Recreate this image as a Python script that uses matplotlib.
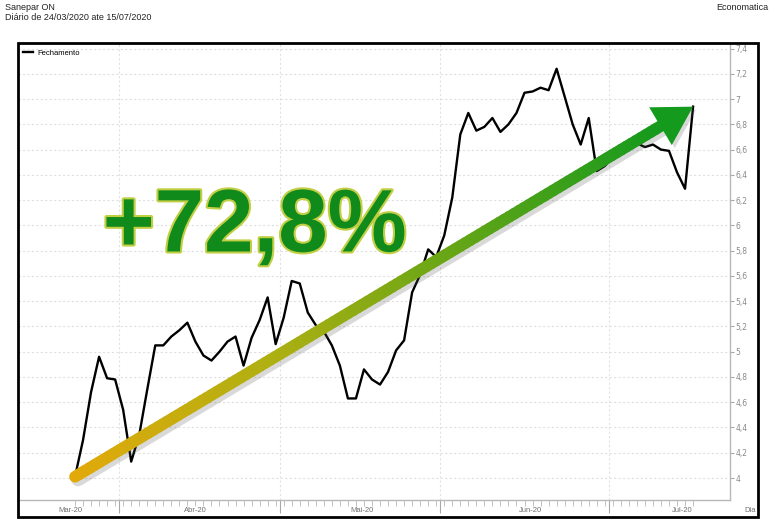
import numpy as np
import pandas as pd
import matplotlib
matplotlib.use('Agg')
import matplotlib.pyplot as plt
import matplotlib.patheffects as pe
from matplotlib.collections import LineCollection
from matplotlib.colors import LinearSegmentedColormap
from matplotlib.patches import Polygon, Rectangle

# trading days 24/03/2020 - 15/07/2020 (B3 holidays removed)
holidays = ['2020-04-10', '2020-04-21', '2020-05-01', '2020-06-11']
dates = pd.bdate_range('2020-03-24', '2020-07-15')
dates = dates[~dates.isin(pd.to_datetime(holidays))]

fechamento = [
    4.01, 4.30, 4.68, 4.96, 4.79, 4.78, 4.54, 4.13, 4.34, 4.70,
    5.05, 5.05, 5.12, 5.17, 5.23, 5.08, 4.97, 4.93, 5.00, 5.08,
    5.12, 4.89, 5.11, 5.25, 5.43, 5.06, 5.27, 5.56, 5.54, 5.31,
    5.21, 5.16, 5.05, 4.89, 4.63, 4.63, 4.86, 4.78, 4.74, 4.84,
    5.01, 5.09, 5.47, 5.61, 5.81, 5.75, 5.92, 6.22, 6.72, 6.89,
    6.75, 6.78, 6.85, 6.74, 6.80, 6.89, 7.05, 7.06, 7.09, 7.07,
    7.24, 7.02, 6.80, 6.64, 6.85, 6.43, 6.47, 6.54, 6.59, 6.63,
    6.65, 6.62, 6.64, 6.60, 6.59, 6.42, 6.29, 6.94,
]
month_names = ['Mar-20', 'Abr-20', 'Mai-20', 'Jun-20', 'Jul-20']
y_ticks = [4.0, 4.2, 4.4, 4.6, 4.8, 5.0, 5.2, 5.4, 5.6, 5.8, 6.0, 6.2, 6.4, 6.6, 6.8, 7.0, 7.2, 7.4]

x = np.arange(len(fechamento))
y = np.array(fechamento)
W, H = 774, 525

fig = plt.figure(figsize=(W / 100, H / 100), dpi=100)
fig.patch.set_facecolor('white')

# plot area in pixels: left 18, right 730, top 44, bottom 500
ax = fig.add_axes([18 / W, 25 / H, 712 / W, 456 / H])
ax.set_xlim(-7.1, 81.6)
ax.set_ylim(3.826, 7.436)

for s in ['top', 'left']:
    ax.spines[s].set_visible(False)
for s in ['right', 'bottom']:
    ax.spines[s].set_color('#b8b8b8')
    ax.spines[s].set_linewidth(1)

ax.yaxis.tick_right()
ax.set_yticks(y_ticks)
ax.set_yticklabels([('%g' % v).replace('.', ',') for v in y_ticks])
ax.tick_params(axis='y', direction='out', length=3, color='#a8a8a8',
               labelsize=5.5, labelcolor='#8a8a8a', pad=1)
ax.grid(axis='y', color='#e0e0e0', linestyle=(0, (2, 2)), linewidth=0.8)

# month boundaries and day ticks
month_idx = [0] + [int(np.argmax(dates.month == m)) for m in [4, 5, 6, 7]]
bounds = [i - 0.5 for i in month_idx[1:]]
ax.set_xticks(bounds)
ax.set_xticklabels([])
ax.set_xticks(x, minor=True)
ax.tick_params(axis='x', which='major', direction='out', length=9, color='#a8a8a8')
ax.tick_params(axis='x', which='minor', direction='out', length=4, color='#b8b8b8')
for b in bounds:
    ax.axvline(b, color='#e2e2e2', linestyle=(0, (2, 2)), linewidth=0.8, zorder=0)

label_pos = [-0.6, 15, 35.7, 56.7, 75.7]
for name, p in zip(month_names, label_pos):
    ax.text(p, -0.024, name, transform=ax.get_xaxis_transform(), ha='center',
            va='center', fontsize=5.5, color='#707070', family='Liberation Sans')
ax.text(1.028, -0.024, 'Dia', transform=ax.transAxes, ha='center', va='center',
        fontsize=5.5, color='#707070', family='Liberation Sans')

line, = ax.plot(x, y, color='black', linewidth=1.7, zorder=3, label='Fechamento')
leg = ax.legend(loc='upper left', frameon=False, handlelength=1.3,
                borderaxespad=0.3, handletextpad=0.6,
                prop={'family': 'Liberation Sans', 'size': 5.5})

# big gradient arrow from first to last close
fig.canvas.draw()
to_disp = ax.transData.transform
to_data = ax.transData.inverted().transform
p0 = to_disp((x[0], y[0]))
p1 = to_disp((x[-1], y[-1]))
d = (p1 - p0) / np.linalg.norm(p1 - p0)
nrm = np.array([-d[1], d[0]])
head_len, head_w = 38, 22
base = p1 - d * head_len

cmap = LinearSegmentedColormap.from_list('arr', ['#e2a90a', '#b0b012', '#62a516', '#149a1d'])
n = 120
t = np.linspace(0, 1, n + 1)
pts = np.array([p0 + (base - p0) * tt for tt in t])
shadow_off = np.array([3, -3])
sh = to_data(pts + shadow_off)
ax.plot(sh[:, 0], sh[:, 1], color='#555555', alpha=0.22, linewidth=9.5,
        solid_capstyle='round', zorder=4)
dpts = to_data(pts)
segs = np.stack([dpts[:-1], dpts[1:]], axis=1)
lc = LineCollection(segs, colors=cmap(t[:-1]), linewidths=8.4, capstyle='round', zorder=5)
ax.add_collection(lc)

head = np.array([p1, base + nrm * head_w, base - nrm * head_w])
ax.add_patch(Polygon(to_data(head + shadow_off), closed=True, color='#555555',
                     alpha=0.22, zorder=4, linewidth=0))
ax.add_patch(Polygon(to_data(head), closed=True, color='#149a1d', zorder=6, linewidth=0))

# headline text
ax.text(0.119, 0.545, '+72,8%', transform=ax.transAxes, ha='left', va='baseline',
        fontsize=64, fontweight='bold', family='Liberation Sans', color='#108a1a',
        zorder=7,
        path_effects=[pe.withStroke(linewidth=3, foreground='#c2cf45')])

# outer frame and titles
fig.patches.append(Rectangle((18 / W, 8 / H), 740 / W, 473 / H + 0.002,
                             transform=fig.transFigure, fill=False,
                             edgecolor='black', linewidth=2, zorder=10))
fig.text(5 / W, 1 - 8 / H, 'Sanepar ON', fontsize=6.5, va='center',
         family='Liberation Sans', color='#222222')
fig.text(5 / W, 1 - 18 / H, 'Diário de 24/03/2020 ate 15/07/2020', fontsize=6.5,
         va='center', family='Liberation Sans', color='#222222')
fig.text(768 / W, 1 - 8 / H, 'Economatica', fontsize=6.5, va='center', ha='right',
         family='Liberation Sans', color='#222222')

fig.savefig('out.png', dpi=100)
